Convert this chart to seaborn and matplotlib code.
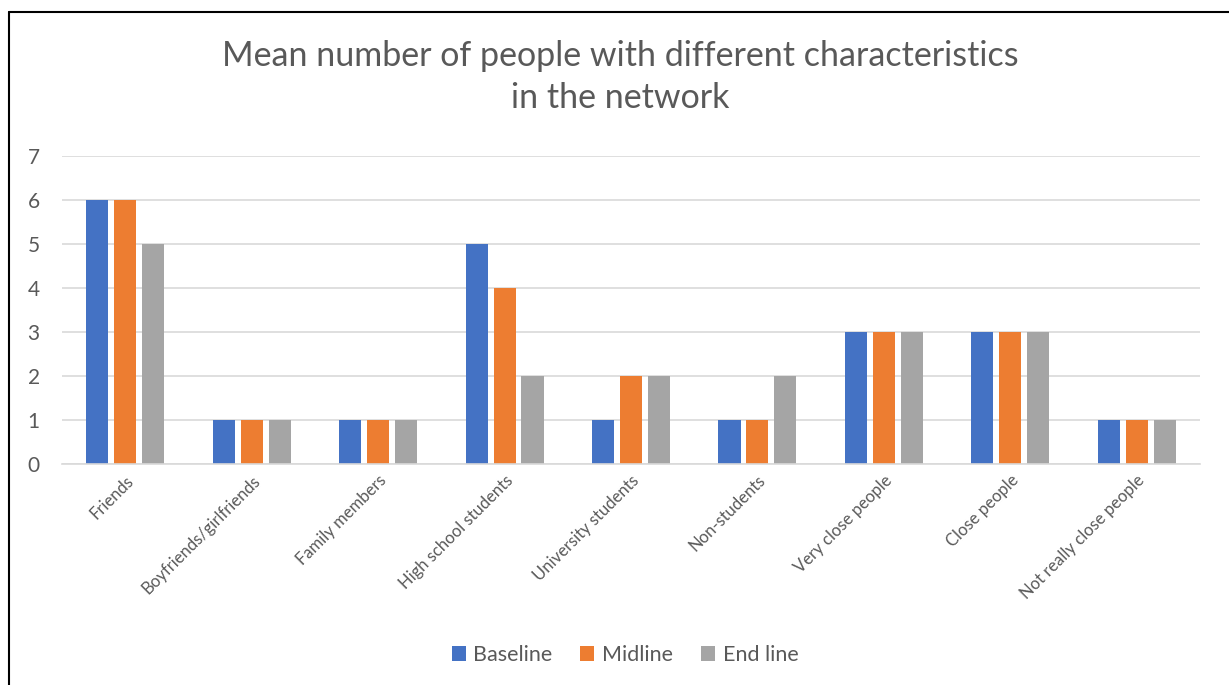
import matplotlib
matplotlib.use("Agg")
import matplotlib.pyplot as plt
import seaborn as sns
import pandas as pd
from matplotlib.lines import Line2D
from matplotlib.patches import Patch

categories = ["Friends", "Boyfriends/girlfriends", "Family members", "High school students",
              "University students", "Non-students", "Very close people", "Close people",
              "Not really close people"]
baseline = [6, 1, 1, 5, 1, 1, 3, 3, 1]
midline = [6, 1, 1, 4, 2, 1, 3, 3, 1]
endline = [5, 1, 1, 2, 2, 2, 3, 3, 1]
series = ["Baseline", "Midline", "End line"]
colors = ["#4472C4", "#ED7D31", "#A5A5A5"]

rows = []
for s, vals in zip(series, [baseline, midline, endline]):
    for c, v in zip(categories, vals):
        rows.append({"Category": c, "Series": s, "Value": v})
df = pd.DataFrame(rows)

sns.set_theme(style="white")
plt.rcParams['font.family'] = ['Lato', 'DejaVu Sans']
txt = "#595959"

fig = plt.figure(figsize=(12.29, 6.85), dpi=100)
ax = fig.add_axes([62/1229, 1-464/685, (1200-62)/1229, (464-156)/685])
sns.barplot(data=df, x="Category", y="Value", hue="Series", palette=colors,
            width=0.664, gap=0.21, ax=ax, legend=False, saturation=1, linewidth=0)
ax.set_ylim(0, 7)
ax.set_xlim(-0.5, len(categories) - 0.5)
ax.set_yticks(range(0, 8))
ax.yaxis.grid(True, color="#D9D9D9", linewidth=1.2)
ax.set_axisbelow(True)
for sp in ["top", "right", "left"]:
    ax.spines[sp].set_visible(False)
ax.spines["bottom"].set_color("#D9D9D9")
ax.spines["bottom"].set_linewidth(1.2)
ax.set_xlabel("")
ax.set_ylabel("")
ax.tick_params(axis="y", labelsize=15, labelcolor=txt, length=0, pad=16)
ax.tick_params(axis="x", labelsize=12, labelcolor=txt, length=0, pad=6)
plt.setp(ax.get_xticklabels(), rotation=45, ha="right", rotation_mode="anchor")

fig.text(0.505, 1-77/685, "Mean number of people with different characteristics\nin the network",
         ha="center", va="center", fontsize=24.5, color=txt, linespacing=1.35)

handles = [Patch(facecolor=c, edgecolor="none") for c in colors]
fig.legend(handles, series, loc="center", bbox_to_anchor=(625/1229, 1-655/685), ncol=3,
           frameon=False, fontsize=15.5, labelcolor=txt, handlelength=0.65, handleheight=0.65,
           columnspacing=1.3, handletextpad=0.35)

fig.add_artist(Line2D([9/1229, 1], [1-12/685, 1-12/685], color="black", linewidth=1.5))
fig.add_artist(Line2D([9/1229, 9/1229], [0, 1-12/685], color="black", linewidth=1.5))

fig.savefig("out.png", dpi=100)
